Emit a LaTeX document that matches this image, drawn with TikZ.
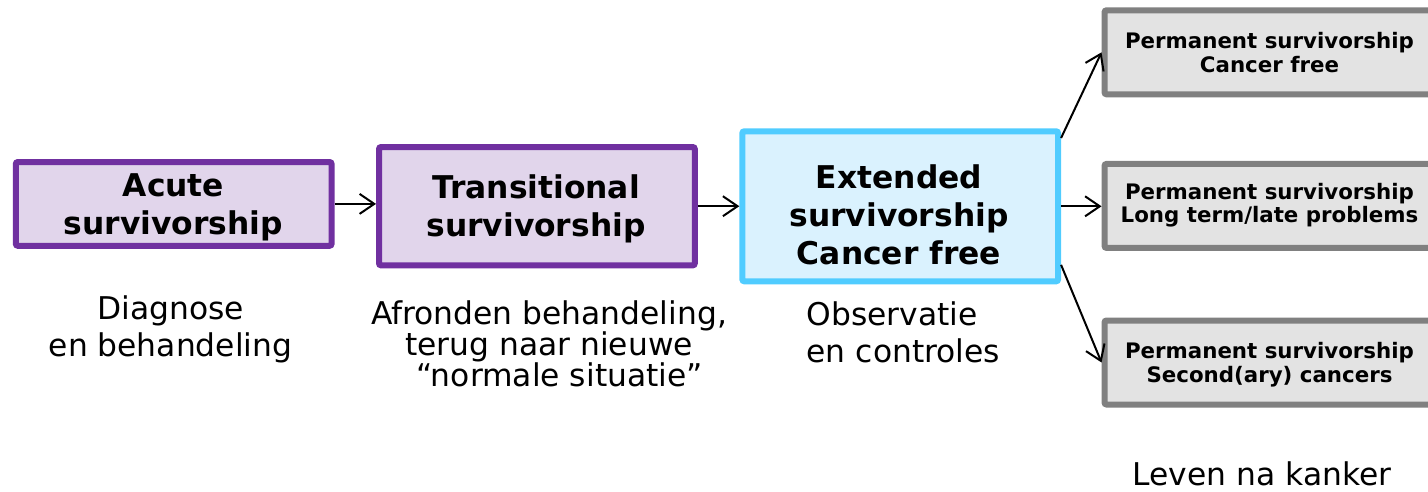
\documentclass[tikz,border=0pt]{standalone}
\usepackage{fontspec}
\setmainfont{DejaVu Sans}
\usetikzlibrary{arrows.meta}

\definecolor{purpleline}{RGB}{112,48,160}
\definecolor{purplefill}{RGB}{225,213,235}
\definecolor{cyanline}{RGB}{80,204,255}
\definecolor{cyanfill}{RGB}{218,242,254}
\definecolor{grayline}{RGB}{128,128,128}
\definecolor{grayfill}{RGB}{227,227,227}

\begin{document}
\begin{tikzpicture}[x=0.75pt,y=-0.75pt,
  box/.style={rectangle, rounded corners=1.5pt, line width=4.5pt, inner sep=0pt},
  phase/.style={box, draw=purpleline, fill=purplefill, minimum width=236.8pt},
  ext/.style={box, draw=cyanline, fill=cyanfill,
              minimum width=236.8pt, minimum height=112.5pt},
  perm/.style={box, draw=grayline, fill=grayfill,
               minimum width=247.9pt, minimum height=63pt},
  boxtext/.style={font=\bfseries\fontsize{23.5}{28.5}\selectfont, align=center, anchor=base},
  permtext/.style={font=\bfseries\fontsize{16}{18}\selectfont, align=center, anchor=base},
  caption/.style={font=\fontsize{23.5}{27.75}\selectfont, anchor=base},
  flow/.style={-{Straight Barb[length=11pt,width=15pt]}, line width=1.5pt}
]
\useasboundingbox (0,0) rectangle (1428,492);
\clip (0,0) rectangle (1428,492);

% phase boxes
\node[phase, minimum height=62.8pt] (acute) at (173.7,203.9) {};
\node[phase, minimum height=88.7pt] (trans) at (536.9,206.2) {};
\node[ext] (ext) at (900.2,206.3) {};

% permanent survivorship outcomes
\node[perm] (permA) at (1269.8,52.3) {};
\node[perm] (permB) at (1269.8,205.9) {};
\node[perm] (permC) at (1269.8,362.5) {};

% box labels (placed on the baseline of their last line)
\node[boxtext] (acuteT) at (173.5,234.3) {Acute\\survivorship};
\node[boxtext] (transT) at (536,236.7) {Transitional\\survivorship};
\node[boxtext] (extT) at (899,264) {Extended\\survivorship\\Cancer free};
\node[permtext] (permAT) at (1269.5,72.3) {Permanent survivorship\\Cancer free};
\node[permtext, font=\bfseries\fontsize{16}{17.25}\selectfont] (permBT) at (1269.5,222) {Permanent survivorship\\Long term/late problems};
\node[permtext] (permCT) at (1269.5,382.3) {Permanent survivorship\\Second(ary) cancers};

% captions under the phases
\node[caption, align=center] (capA) at (170.5,356) {Diagnose\\en behandeling};
\node[caption, align=center, font=\fontsize{23.5}{23.25}\selectfont] (capB) at (549,386.7)
  {Afronden behandeling,\\terug naar nieuwe\\\hspace*{16pt}“normale situatie”};
\node[caption, align=left, anchor=base west] (capC) at (802,362) {Observatie\\en controles};
\node[caption] (capD) at (1262,485) {Leven na kanker};

% connectors
\draw[flow] (acute.east) -- (acute.east -| trans.west);
\draw[flow] (trans.east) -- (trans.east -| ext.west);
\draw[flow] (ext.east) -- (ext.east -| permB.west);
\draw[flow] (ext.23) -- (permA.west);
\draw[flow] (ext.-20.5) -- (permC.west);
\end{tikzpicture}
\end{document}
